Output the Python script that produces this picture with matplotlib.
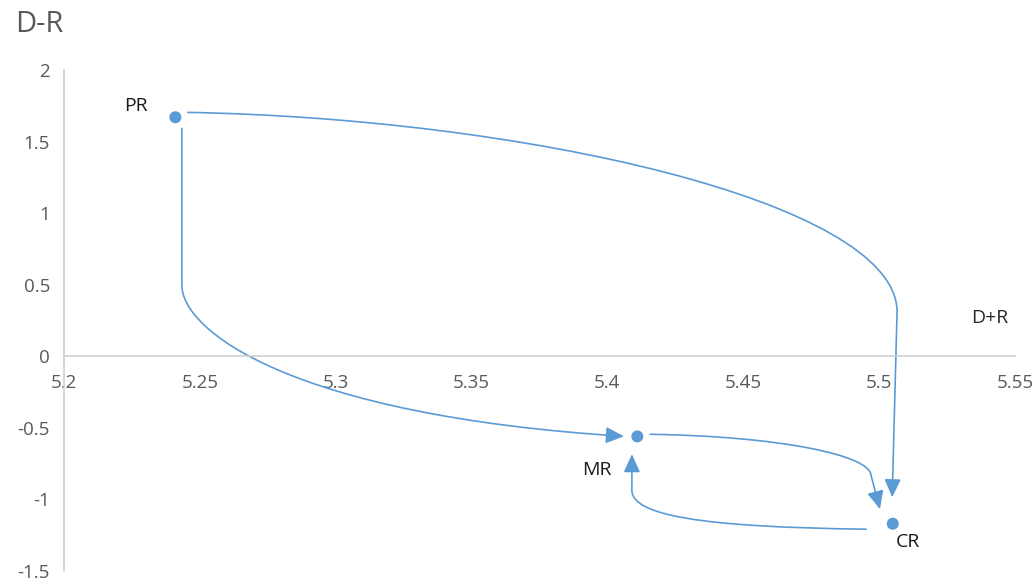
import matplotlib
matplotlib.use("Agg")
import matplotlib.pyplot as plt
from matplotlib.path import Path
from matplotlib.patches import FancyArrowPatch

# ---- data ----
labels = ["PR", "MR", "CR"]
x_vals = [5.241, 5.411, 5.505]   # D+R
y_vals = [1.67, -0.56, -1.17]    # D-R
x_ticks = [5.2, 5.25, 5.3, 5.35, 5.4, 5.45, 5.5, 5.55]
x_ticklabels = ["5.2", "5.25", "5.3", "5.35", "5.4", "5.45", "5.5", "5.55"]
y_ticks = [-1.5, -1, -0.5, 0, 0.5, 1, 1.5, 2]
y_ticklabels = ["-1.5", "-1", "-0.5", "0", "0.5", "1", "1.5", "2"]

# connector waypoints (data coords)
arrow_PR_CR = [(5.2456, 1.704), (5.3678, 1.662), (5.5051, 1.089), (5.5066, 0.321), (5.5048, -0.985)]
arrow_PR_MR = [(5.2434, 1.592), (5.2434, 0.496), (5.2434, 0.182), (5.2832, -0.412), (5.4061, -0.559)]
arrow_MR_CR = [(5.4157, -0.545), (5.4635, -0.559), (5.4966, -0.691), (5.497, -0.831), (5.5003, -1.068)]
arrow_CR_MR = [(5.4952, -1.208), (5.4341, -1.194), (5.409, -1.110), (5.409, -0.936), (5.409, -0.684)]

BLUE = "#5B9BD5"
GREY_TXT = "#595959"
AXIS = "#D0D0D0"

plt.rcParams["font.family"] = ["Open Sans", "DejaVu Sans"]

fig = plt.figure(figsize=(10.35, 5.84), dpi=100)
ax = fig.add_axes([0.0618, 0.0223, 0.9189, 0.8578])
ax.set_xlim(5.2, 5.55)
ax.set_ylim(-1.5, 2)

for s in ["top", "right"]:
    ax.spines[s].set_visible(False)
ax.spines["bottom"].set_position(("data", 0))
ax.spines["bottom"].set_color(AXIS)
ax.spines["left"].set_color(AXIS)
ax.spines["bottom"].set_linewidth(1.2)
ax.spines["left"].set_linewidth(1.2)

ax.set_xticks(x_ticks)
ax.set_xticklabels(x_ticklabels)
ax.set_yticks(y_ticks)
ax.set_yticklabels(y_ticklabels)
ax.tick_params(axis="both", length=0, colors=GREY_TXT, labelsize=13.5)
ax.tick_params(axis="x", pad=13)
ax.tick_params(axis="y", pad=10)

STYLE = "-|>,head_length=11,head_width=5"

def draw_connector(pts):
    # cubic curve followed by a straight segment to the tip
    p0, p1, p2, p3, tip = pts
    path = Path([p0, p1, p2, p3, tip],
                [Path.MOVETO, Path.CURVE4, Path.CURVE4, Path.CURVE4, Path.LINETO])
    ax.add_patch(FancyArrowPatch(path=path, arrowstyle=STYLE, color=BLUE, lw=1.2,
                                 shrinkA=0, shrinkB=0, zorder=2))

def draw_connector2(pts):
    # straight segment followed by a cubic curve to the tip
    p0, p1, c1, c2, tip = pts
    path = Path([p0, p1, c1, c2, tip],
                [Path.MOVETO, Path.LINETO, Path.CURVE4, Path.CURVE4, Path.CURVE4])
    ax.add_patch(FancyArrowPatch(path=path, arrowstyle=STYLE, color=BLUE, lw=1.2,
                                 shrinkA=0, shrinkB=0, zorder=2))

draw_connector(arrow_PR_CR)
draw_connector2(arrow_PR_MR)
draw_connector(arrow_MR_CR)
draw_connector(arrow_CR_MR)

ax.scatter(x_vals, y_vals, s=75, color=BLUE, zorder=3, edgecolors="none")

offsets = {"PR": (-37, 8), "MR": (-40, -24), "CR": (2, -13)}
for lab, x, y in zip(labels, x_vals, y_vals):
    dx, dy = offsets[lab]
    ax.annotate(lab, (x, y), xytext=(dx, dy), textcoords="offset points",
                fontsize=14, color="#1a1a1a", ha="left", va="center")

fig.text(15 / 1035, 1 - 24 / 584, "D-R", fontsize=21, color=GREY_TXT, ha="left", va="center")
fig.text(971 / 1035, 1 - 318 / 584, "D+R", fontsize=14, color="#262626", ha="left", va="center")

fig.savefig("out.png", dpi=100)
